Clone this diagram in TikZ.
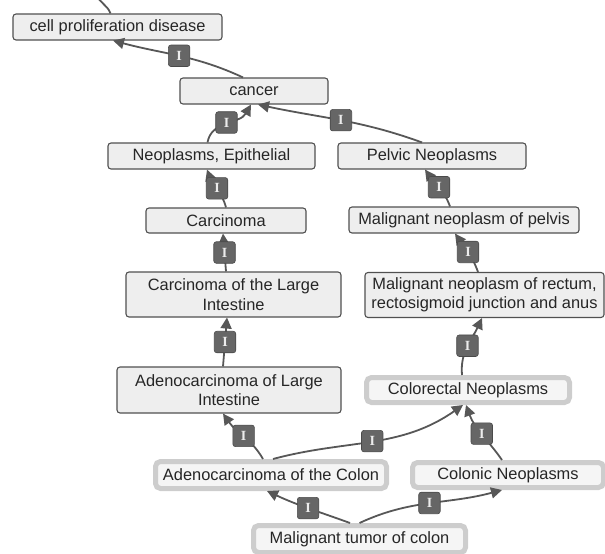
\documentclass[tikz,border=0pt]{standalone}
\usepackage{fontspec}
\setmainfont{Liberation Sans}
\newfontfamily\isafont{Liberation Serif}
\usepackage{xcolor}
\usepackage{tikz}
\usetikzlibrary{arrows.meta}

\definecolor{boxfill}{HTML}{EEEEEE}
\definecolor{boxdraw}{HTML}{505050}
\definecolor{hlfill}{HTML}{F5F5F5}
\definecolor{hldraw}{HTML}{CDCDCD}
\definecolor{edgecol}{HTML}{575757}
\definecolor{lblfill}{HTML}{666666}
\definecolor{lbldraw}{HTML}{4A4A4A}
\definecolor{lbltext}{HTML}{ECECEC}
\definecolor{textcol}{HTML}{262626}

\begin{document}
\begin{tikzpicture}[
  x=1pt, y=1pt,
  font=\fontsize{16.4}{19.5}\selectfont,
  >={Triangle[length=11pt,width=11pt]},
  concept/.style={
    draw=boxdraw,
    line width=1.1pt,
    fill=boxfill,
    rounded corners=3pt,
    align=center,
    inner sep=0pt,
    text=textcol
  },
  focus/.style={concept, draw=hldraw, line width=5pt, fill=hlfill, rounded corners=5pt},
  arr/.style={->, draw=edgecol, line width=1.8pt},
  isa/.style={
    fill=lblfill,
    draw=lbldraw,
    line width=0.6pt,
    rounded corners=2.5pt,
    minimum size=21.5pt,
    inner sep=0pt,
    text=lbltext,
    font=\fontsize{14}{14}\isafont\bfseries
  }
]
  \useasboundingbox (0,0) rectangle (605,-554);
  \clip (0,0) rectangle (605,-554);

  % Upper part
  \node[concept, minimum width=209pt, minimum height=26pt] (cpd) at (117.5,-27) {cell proliferation disease};
  \node[concept, minimum width=148pt, minimum height=26pt] (cancer) at (254,-91) {cancer};
  \node[concept, minimum width=207pt, minimum height=26pt] (epith) at (211.5,-156) {Neoplasms, Epithelial};
  \node[concept, minimum width=188pt, minimum height=26pt] (pelvic) at (432,-156) {Pelvic Neoplasms};
  \node[concept, minimum width=160pt, minimum height=25pt] (carc) at (226,-220.5) {Carcinoma};
  \node[concept, minimum width=230pt, minimum height=26pt] (pelvmal) at (464,-220) {Malignant neoplasm of pelvis};
  \node[concept, minimum width=215pt, minimum height=45pt] (cli) at (233.5,-294.5) {Carcinoma of the Large\\Intestine};
  \node[concept, minimum width=239pt, minimum height=45pt] (rectal) at (484.5,-295) {Malignant neoplasm of rectum,\\rectosigmoid junction and anus};
  \node[concept, minimum width=224pt, minimum height=46pt] (ali) at (229,-390) {Adenocarcinoma of Large\\Intestine};

  % Highlighted concepts
  \node[focus, minimum width=203pt, minimum height=25pt] (crn) at (468,-390) {Colorectal Neoplasms};
  \node[focus, minimum width=231pt, minimum height=27pt] (adcol) at (271,-475) {Adenocarcinoma of the Colon};
  \node[focus, minimum width=191pt, minimum height=25pt] (colneo) at (508,-475) {Colonic Neoplasms};
  \node[focus, minimum width=212pt, minimum height=27pt] (tumor) at (359.5,-539) {Malignant tumor of colon};

  % is-a links
  \coordinate (up) at (96,6);
  \draw[draw=edgecol, line width=1.8pt] ([xshift=-7pt]cpd.north) to[out=110,in=-70] (up);
  \draw[arr] ([xshift=-11pt]cancer.north) to[out=155,in=-15] node[isa]{I} ([xshift=-4.5pt]cpd.south);
  \draw[arr] ([xshift=-4pt]epith.north) to[out=80,in=-120] node[isa]{I} ([xshift=-3pt]cancer.south);
  \draw[arr] ([xshift=-10pt]pelvic.north) to[out=160,in=-12] node[isa]{I} ([xshift=4pt]cancer.south);
  \draw[arr] (carc.north) to[out=105,in=-70] node[isa]{I} ([xshift=-4.5pt]epith.south);
  \draw[arr] ([xshift=-14pt]pelvmal.north) to[out=110,in=-55] node[isa]{I} ([xshift=-7pt]pelvic.south);
  \draw[arr] ([xshift=-7.5pt]cli.north) -- node[isa]{I} ([xshift=-3pt]carc.south);
  \draw[arr] ([xshift=-6.5pt]rectal.north) to[out=110,in=-55] node[isa]{I} ([xshift=-9pt]pelvmal.south);
  \draw[arr] ([xshift=-6pt]ali.north) -- node[isa]{I} ([xshift=-6.5pt]cli.south);
  \draw[arr] ([xshift=-6pt]crn.north) to[out=95,in=-115] node[isa]{I} ([xshift=-2.5pt]rectal.south);
  \draw[arr] ([xshift=-8pt]adcol.north) to[out=120,in=-55] node[isa]{I} ([xshift=-6pt]ali.south);
  \draw[arr] ([xshift=2pt]adcol.north) to[out=15,in=-145] node[isa]{I} ([xshift=-5pt]crn.south);
  \draw[arr] ([xshift=-6pt]colneo.north) to[out=125,in=-70] node[isa]{I} ([xshift=-2pt]crn.south);
  \draw[arr] ([xshift=-9.5pt]tumor.north) to[out=160,in=-25] node[isa]{I} ([xshift=-4pt]adcol.south);
  \draw[arr] (tumor.north) to[out=25,in=-165] node[isa]{I} ([xshift=-6pt]colneo.south);
\end{tikzpicture}
\end{document}
